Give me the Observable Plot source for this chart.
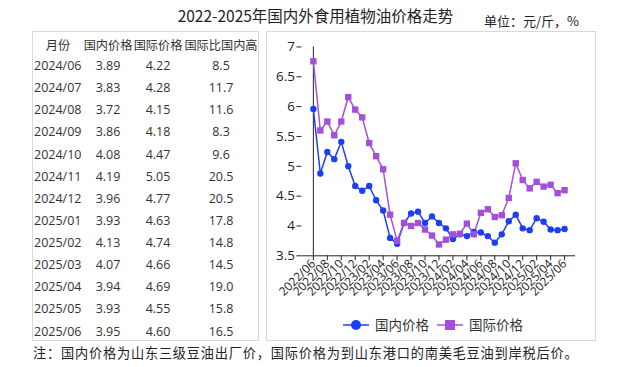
<!DOCTYPE html>
<html>
<head>
<meta charset="utf-8">
<script src="https://cdn.jsdelivr.net/npm/d3@7"></script>
<script src="https://cdn.jsdelivr.net/npm/@observablehq/plot@0.6"></script>
<style>
  html, body { margin: 0; padding: 0; background: #fff; }
  body { width: 629px; height: 367px; position: relative; overflow: hidden; font-family: "Noto Sans CJK SC", "Open Sans", sans-serif; color: #222; }
  #title { position: absolute; left: 0; width: 629px; top: 5px; text-align: center; font-size: 15.5px; line-height: 20px; padding-left: 2px; box-sizing: border-box; }
  #unit { position: absolute; left: 484px; top: 12px; font-size: 13px; line-height: 18px; }
  #tablebox { position: absolute; left: 32px; top: 31px; width: 227px; height: 310px; border: 1px solid #d9d9d9; box-sizing: border-box; }
  #chartbox { position: absolute; left: 266px; top: 31px; width: 330px; height: 310px; border: 1px solid #d9d9d9; box-sizing: border-box; }
  #chart { position: absolute; left: -1px; top: -1px; }
  .cell { position: absolute; font-size: 12.5px; line-height: 16px; font-family: "Open Sans", "Noto Sans CJK SC", sans-serif; color: #333; white-space: nowrap; }
  .hdr { font-family: "Noto Sans CJK SC", sans-serif; font-size: 12.2px; }
  #legend { position: absolute; left: 0; top: 283px; width: 330px; height: 20px; }
  #note { position: absolute; left: 33px; top: 344px; font-size: 13.2px; line-height: 18px; letter-spacing: 0.8px; white-space: nowrap; color: #222; }
</style>
</head>
<body>
<div id="title"></div>
<div id="unit"></div>
<div id="tablebox"></div>
<div id="chartbox"><div id="chart"></div><svg id="legend" width="330" height="20"></svg></div>
<div id="note"></div>
<script>
const titleText = "2022-2025年国内外食用植物油价格走势";
const unitText = "单位：元/斤，%";
const noteText = "注：国内价格为山东三级豆油出厂价，国际价格为到山东港口的南美毛豆油到岸税后价。";
const seriesNames = ["国内价格", "国际价格"];
const tableHeaders = ["月份", "国内价格", "国际价格", "国际比国内高"];

const months = [
  "2022/06","2022/07","2022/08","2022/09","2022/10","2022/11","2022/12",
  "2023/01","2023/02","2023/03","2023/04","2023/05","2023/06","2023/07","2023/08","2023/09","2023/10","2023/11","2023/12",
  "2024/01","2024/02","2024/03","2024/04","2024/05","2024/06","2024/07","2024/08","2024/09","2024/10","2024/11","2024/12",
  "2025/01","2025/02","2025/03","2025/04","2025/05","2025/06"
];
const domestic = [
  5.96,4.88,5.24,5.12,5.41,5.00,4.67,
  4.59,4.67,4.43,4.26,3.80,3.70,4.05,4.21,4.24,4.05,4.16,4.05,
  3.96,3.78,3.86,3.83,3.90,3.89,3.83,3.72,3.86,4.08,4.19,3.96,
  3.93,4.13,4.07,3.94,3.93,3.95
];
const international = [
  6.76,5.60,5.75,5.52,5.75,6.16,5.95,
  5.82,5.39,5.17,4.95,4.19,3.75,4.05,4.00,4.05,3.94,3.84,3.69,
  3.77,3.86,3.87,4.04,3.86,4.22,4.28,4.15,4.18,4.47,5.05,4.77,
  4.63,4.74,4.66,4.69,4.55,4.60
];
const tableMonths = ["2024/06","2024/07","2024/08","2024/09","2024/10","2024/11","2024/12","2025/01","2025/02","2025/03","2025/04","2025/05","2025/06"];
const tableDomestic = ["3.89","3.83","3.72","3.86","4.08","4.19","3.96","3.93","4.13","4.07","3.94","3.93","3.95"];
const tableInternational = ["4.22","4.28","4.15","4.18","4.47","5.05","4.77","4.63","4.74","4.66","4.69","4.55","4.60"];
const tablePremium = ["8.5","11.7","11.6","8.3","9.6","20.5","20.5","17.8","14.8","14.5","19.0","15.8","16.5"];
const xTicks = months.filter((d, i) => i % 2 === 0);
const yTicks = [3.5, 4, 4.5, 5, 5.5, 6, 6.5, 7];

const colors = ["#1c3ef5", "#a44fda"];

document.getElementById("title").textContent = titleText;
document.getElementById("unit").textContent = unitText;
document.getElementById("note").textContent = noteText;

// table
const tb = document.getElementById("tablebox");
const colCenters = [25, 75, 125, 188]; // relative to box left (box at x=32)
const rowH = 22.13;
const headerY = 12.5;
const firstRowY = 34;
function addCell(text, cx, cy, cls, left) {
  const d = document.createElement("div");
  d.className = "cell" + (cls ? " " + cls : "");
  d.textContent = text;
  tb.appendChild(d);
  const w = d.getBoundingClientRect().width;
  d.style.left = (left != null ? left : cx - w / 2) + "px";
  d.style.top = (cy - 8) + "px";
}
tableHeaders.forEach((h, j) => addCell(h, colCenters[j], headerY, "hdr"));
tableMonths.forEach((m, i) => {
  const cy = firstRowY + i * rowH;
  addCell(m, 0, cy, "", 1);
  addCell(tableDomestic[i], colCenters[1], cy);
  addCell(tableInternational[i], colCenters[2], cy);
  addCell(tablePremium[i], colCenters[3], cy);
});

// chart data
const data = [];
months.forEach((m, i) => {
  data.push({month: m, value: domestic[i], series: seriesNames[0]});
  data.push({month: m, value: international[i], series: seriesNames[1]});
});
const dom = data.filter(d => d.series === seriesNames[0]);
const intl = data.filter(d => d.series === seriesNames[1]);

const chart = Plot.plot({
  width: 330,
  height: 280,
  marginLeft: 35.5,
  marginRight: 20,
  marginTop: 15.5,
  marginBottom: 55,
  style: {fontFamily: "'Open Sans', 'Noto Sans CJK SC', sans-serif", color: "#222", background: "transparent", overflow: "visible"},
  x: {type: "point", domain: months, padding: 0},
  y: {domain: [3.5, 7]},
  marks: [
    Plot.axisY({ticks: yTicks, tickFormat: d => String(d), tickSize: 5, tickPadding: 2, fontSize: 13.5, label: null, stroke: "#222"}),
    Plot.axisX({ticks: xTicks, tickRotate: -45, tickSize: 5, tickPadding: 1, fontSize: 12, label: null, stroke: "#222"}),
    Plot.ruleX([months[0]], {stroke: "#222", strokeWidth: 1}),
    Plot.ruleY([3.5], {stroke: "#222", strokeWidth: 1}),
    Plot.line(dom, {x: "month", y: "value", stroke: colors[0], strokeWidth: 1.5}),
    Plot.line(intl, {x: "month", y: "value", stroke: colors[1], strokeWidth: 1.5}),
    Plot.dot(dom, {x: "month", y: "value", fill: colors[0], r: 3.2, symbol: "circle"}),
    Plot.dot(intl, {x: "month", y: "value", fill: colors[1], r: 3.6, symbol: "square"})
  ]
});
document.getElementById("chart").appendChild(chart);

// legend
const lg = d3.select("#legend");
const items = [{x: 76, name: seriesNames[0], sym: "circle"}, {x: 170, name: seriesNames[1], sym: "square"}];
items.forEach((it, i) => {
  lg.append("line").attr("x1", it.x).attr("x2", it.x + 26).attr("y1", 10).attr("y2", 10)
    .attr("stroke", colors[i]).attr("stroke-width", 1.5);
  if (it.sym === "circle") {
    lg.append("circle").attr("cx", it.x + 13).attr("cy", 10).attr("r", 5).attr("fill", colors[i]);
  } else {
    lg.append("rect").attr("x", it.x + 8).attr("y", 5).attr("width", 10).attr("height", 10).attr("fill", colors[i]);
  }
  lg.append("text").attr("x", it.x + 32).attr("y", 10).attr("dy", "0.35em")
    .attr("font-size", 13.5).attr("fill", "#333").attr("font-family", "'Noto Sans CJK SC', sans-serif").text(it.name);
});
</script>
</body>
</html>
